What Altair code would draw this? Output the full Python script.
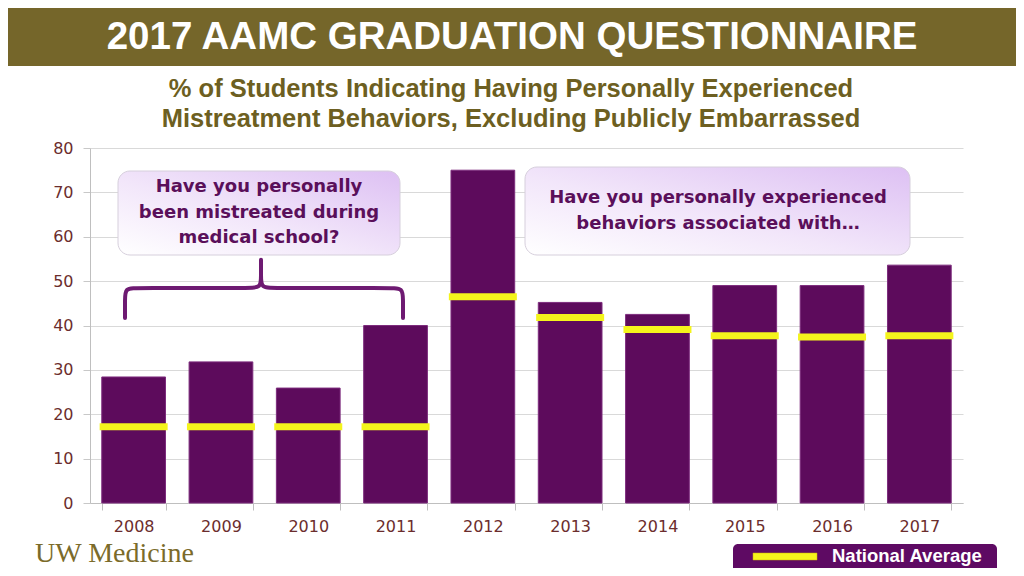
import altair as alt
import pandas as pd

# ---------------- data ----------------
years = ["2008", "2009", "2010", "2011", "2012", "2013", "2014", "2015", "2016", "2017"]
uw_values = [28.4, 31.8, 25.9, 40.0, 75.0, 45.2, 42.5, 49.0, 49.0, 53.6]
national_avg = [17.2, 17.2, 17.2, 17.2, 46.5, 41.8, 39.1, 37.7, 37.4, 37.7]
y_ticks = [0, 10, 20, 30, 40, 50, 60, 70, 80]

title_text = "2017 AAMC GRADUATION QUESTIONNAIRE"
subtitle_lines = ["% of Students Indicating Having Personally Experienced",
                  "Mistreatment Behaviors, Excluding Publicly Embarrassed"]
callout1_lines = ["Have you personally", "been mistreated during", "medical school?"]
callout2_lines = ["Have you personally experienced", "behaviors associated with\u2026"]
legend_label = "National Average"
logo_text = "UW Medicine"

# brace outline (page pixels) - decoration
brace_x = [125, 125, 125, 137, 248, 261, 261, 261, 261, 261, 261, 274, 390, 403, 403, 403]
brace_y = [318, 300, 288, 288, 288, 288, 276, 259, 259, 276, 288, 288, 288, 288, 300, 318]

# ---------------- layout helpers ----------------
OX, OY = 90, 148  # page position of the plot origin


def px(x):
    return x - OX


def py(y):
    return y - OY


PURPLE = "#5d0b5c"
YELLOW = "#f4f41c"
OLIVE = "#75662a"
TXT_PURPLE = "#5a0f5a"
AXIS_TXT = "#6b2d2d"

df = pd.DataFrame({"year": years, "uw": uw_values, "nat": national_avg})
one = pd.DataFrame({"k": [0]})


def rect(x1, y1, x2, y2, **kw):
    return alt.Chart(one).mark_rect(**kw).encode(
        x=alt.value(px(x1)), x2=alt.value(px(x2)),
        y=alt.value(py(y1)), y2=alt.value(py(y2)))


def text(s, x, y, **kw):
    return alt.Chart(one).mark_text(**kw).encode(
        x=alt.value(px(x)), y=alt.value(py(y)), text=alt.value(s))


# ---------------- data layers ----------------
xenc = alt.X("year:N",
             scale=alt.Scale(paddingInner=0.27, paddingOuter=0.135),
             axis=alt.Axis(title=None, labelAngle=0, tickBand="extent",
                           labelFont="DejaVu Sans", labelFontSize=16,
                           labelColor=AXIS_TXT, labelPadding=8, tickSize=7,
                           tickColor="#bfbfbf", domainColor="#bfbfbf", grid=False))
yenc = alt.Y("uw:Q",
             scale=alt.Scale(domain=[0, 80], nice=False),
             axis=alt.Axis(title=None, values=y_ticks, labelFont="DejaVu Sans",
                           labelFontSize=16, labelColor=AXIS_TXT, labelPadding=10,
                           tickSize=7, tickColor="#c8c8c8", domainColor="#bfbfbf",
                           gridColor="#d9d9d9"))

bars = alt.Chart(df).mark_bar(color=PURPLE, stroke="#7d2c7d", strokeWidth=1).encode(
    x=xenc, y=yenc)
nat_ticks = alt.Chart(df).mark_tick(color=YELLOW, opacity=1, thickness=7, size=68).encode(
    x=alt.X("year:N"), y=alt.Y("nat:Q"))
data_layer = alt.layer(bars, nat_ticks)

brace_df = pd.DataFrame({"i": list(range(len(brace_x))),
                         "bx": [px(v) for v in brace_x],
                         "by": [py(v) for v in brace_y]})
brace = alt.Chart(brace_df).mark_line(color="#6e1a72", strokeWidth=4,
                                      interpolate="basis", strokeCap="round").encode(
    x=alt.X("bx:Q", scale=None, axis=None),
    y=alt.Y("by:Q", scale=None, axis=None),
    order="i:Q")

# ---------------- decorations ----------------
header = rect(8, 8, 1016, 66, color=OLIVE)
title = text(title_text, 512, 37, font="Liberation Sans", fontSize=38.5,
             fontWeight="bold", color="white", baseline="middle", align="center")
subs = [text(s, 511, yy, font="Liberation Sans", fontSize=25.5, fontWeight="bold",
             color="#6d5f21", baseline="middle", align="center")
        for s, yy in zip(subtitle_lines, [89, 119])]

grad = alt.Gradient(gradient="linear",
                    stops=[alt.GradientStop(color="#ffffff", offset=0),
                           alt.GradientStop(color="#f2e6fa", offset=0.45),
                           alt.GradientStop(color="#ddc0f3", offset=1)],
                    x1=0, x2=1, y1=1, y2=0)
box1 = rect(118, 171, 400, 255, color=grad, cornerRadius=12,
            stroke="#d6cfdc", strokeWidth=1)
box2 = rect(525, 167, 910, 255, color=grad, cornerRadius=12,
            stroke="#d6cfdc", strokeWidth=1)
c1 = [text(s, 259, yy, font="DejaVu Sans", fontSize=18, fontWeight="bold",
           color=TXT_PURPLE, baseline="middle", align="center")
      for s, yy in zip(callout1_lines, [187, 213, 238])]
c2 = [text(s, 718, yy, font="DejaVu Sans", fontSize=18, fontWeight="bold",
           color=TXT_PURPLE, baseline="middle", align="center")
      for s, yy in zip(callout2_lines, [198, 224])]

legend_box = rect(733, 544, 997, 575, color="#5e0a63", cornerRadius=5)
legend_swatch = rect(753, 553, 817, 560, color=YELLOW, stroke="#c8b400", strokeWidth=0.5)
legend_text = text(legend_label, 832, 556, font="Liberation Sans", fontSize=18.5,
                   fontWeight="bold", color="white", baseline="middle", align="left")

logo = text(logo_text, 35, 562, font="Liberation Serif", fontSize=28,
            color="#7b6b2a", baseline="alphabetic", align="left")

chart = alt.layer(
    header, title, *subs, data_layer, box1, box2, *c1, *c2, brace,
    legend_box, legend_swatch, legend_text, logo
).resolve_scale(x="independent", y="independent").properties(
    width=873, height=355,
    autosize=alt.AutoSizeParams(type="none"),
    padding={"left": 82, "top": 140, "right": 53, "bottom": 65},
    background="white",
).configure_view(strokeWidth=0)

chart.save("out.html", embed_options={"renderer": "svg", "actions": False})
